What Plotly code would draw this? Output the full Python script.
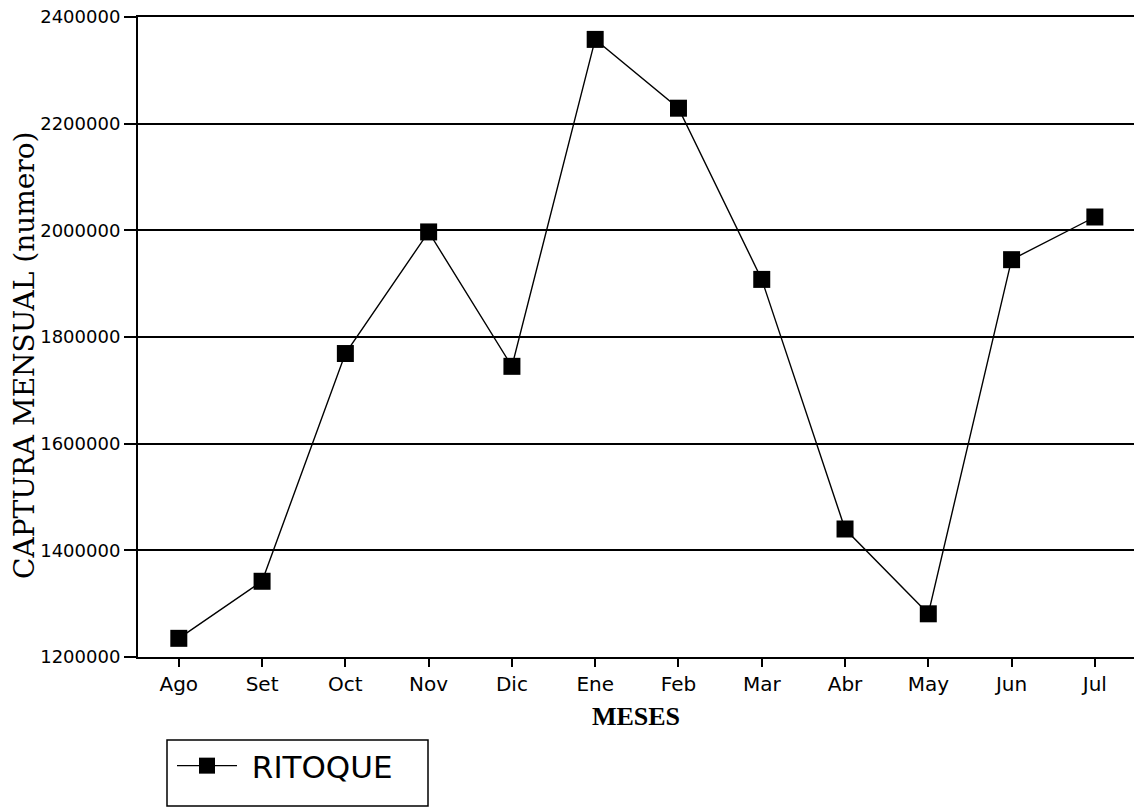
import plotly.graph_objects as go

# monthly catch, RITOQUE
meses = ["Ago", "Set", "Oct", "Nov", "Dic", "Ene", "Feb", "Mar", "Abr", "May", "Jun", "Jul"]
captura = [1235000, 1342000, 1769000, 1997000, 1745000, 2358000,
           2229000, 1908000, 1440000, 1281000, 1945000, 2025000]
y_ticks = [1200000, 1400000, 1600000, 1800000, 2000000, 2200000, 2400000]

W, H = 1134, 807
L, R, T, B = 138, 0, 17, 150
PW, PH = W - L - R, H - T - B


def px_x(px):
    # page pixel -> paper coordinate
    return (px - L) / PW


def px_y(py):
    return (H - B - py) / PH


fig = go.Figure()
fig.add_trace(go.Scatter(
    x=list(range(len(meses))), y=captura, mode="lines+markers",
    name="\u00a0RITOQUE",
    line={"color": "black", "width": 1.4},
    marker={"symbol": "square", "size": 17, "color": "black"},
))

# legend frame
fig.add_shape(type="rect", xref="paper", yref="paper",
              x0=px_x(167), x1=px_x(428), y0=px_y(740), y1=px_y(806),
              line={"color": "black", "width": 1.5})

# y-axis title (serif, rotated)
fig.add_annotation(
    text="CAPTURA MENSUAL (numero)", xref="paper", yref="paper",
    x=px_x(24), y=px_y(356), xanchor="center", yanchor="middle",
    textangle=-90, showarrow=False,
    font={"family": "DejaVu Serif", "size": 28, "color": "black"},
)

fig.update_layout(
    width=W, height=H,
    margin={"l": L, "r": R, "t": T, "b": B},
    paper_bgcolor="white", plot_bgcolor="white",
    showlegend=True,
    legend={
        "x": px_x(172), "y": px_y(739), "xanchor": "left", "yanchor": "top",
        "font": {"family": "DejaVu Sans", "size": 31, "color": "black"},
        "bgcolor": "rgba(0,0,0,0)", "borderwidth": 0,
        "itemwidth": 60,
    },
    xaxis={
        "range": [-0.49, 11.47],
        "tickmode": "array", "tickvals": list(range(len(meses))), "ticktext": meses,
        "ticks": "outside", "ticklen": 8, "tickwidth": 1.5, "tickcolor": "black",
        "showline": True, "linecolor": "black", "linewidth": 2, "mirror": True,
        "showgrid": False, "zeroline": False,
        "tickfont": {"family": "DejaVu Sans", "size": 20, "color": "black"},
        "title": {"text": "<b>MESES</b>", "standoff": 12,
                  "font": {"family": "Liberation Serif", "size": 26, "color": "black"}},
    },
    yaxis={
        "range": [1200000, 2400000],
        "tickmode": "array", "tickvals": y_ticks, "ticktext": [str(v) for v in y_ticks],
        "ticks": "outside", "ticklen": 12, "tickwidth": 1.5, "tickcolor": "black",
        "showline": True, "linecolor": "black", "linewidth": 2,
        "showgrid": True, "gridcolor": "black", "gridwidth": 1.6,
        "zeroline": False,
        "tickfont": {"family": "DejaVu Sans", "size": 18, "color": "black"},
    },
)

# drop the browser's default 8px body margin so the figure fills the window
fig.write_html(
    "out.html",
    config={"displayModeBar": False},
    post_script="document.body.style.margin = '0';",
)
